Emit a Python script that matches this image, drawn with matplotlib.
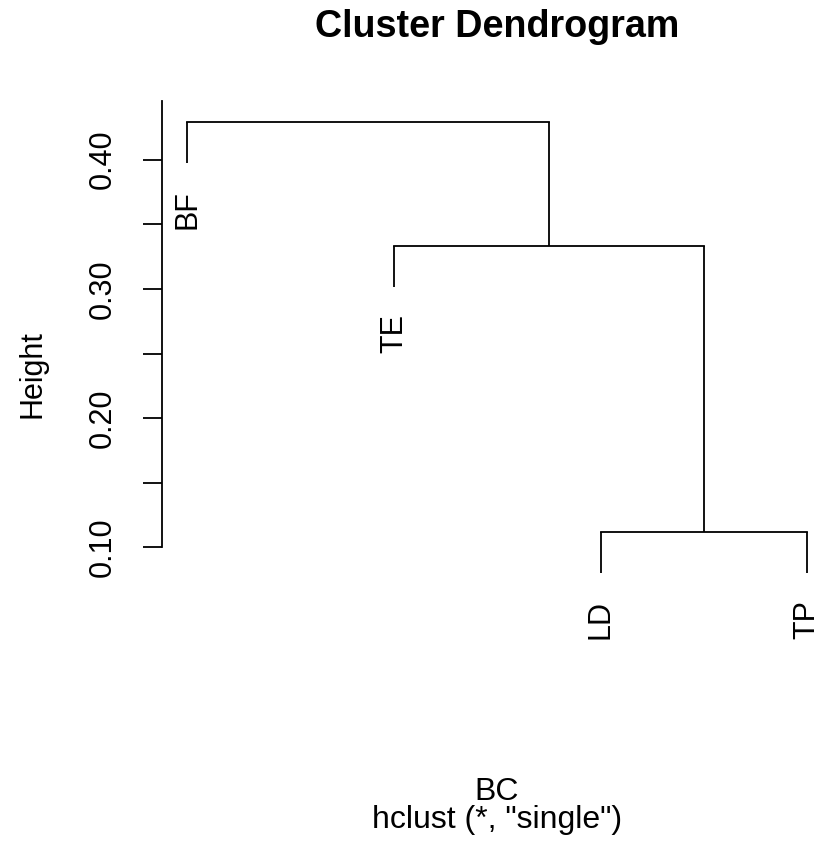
import matplotlib
matplotlib.use("Agg")
from matplotlib import pyplot as plt

plt.rcParams['font.family'] = ['Liberation Sans', 'DejaVu Sans']

# leaves in display order, merges in R hclust style (negative = leaf)
labels = ["BF", "TE", "LD", "TP"]
merge = [(-3, -4), (-2, 1), (-1, 2)]
height = [0.1116, 0.3334, 0.4289]
yticks = [0.10, 0.15, 0.20, 0.25, 0.30, 0.35, 0.40]
yticklabels = ["0.10", "", "0.20", "", "0.30", "", "0.40"]

W, H = 814, 847
fig = plt.figure(figsize=(W / 100, H / 100), dpi=100)
# plot region in pixels: left 162, right 832 (beyond the edge), top 101, bottom 591
ax = fig.add_axes([162.3 / W, 1 - 591.4 / H, 670 / W, 490.4 / H])

lw = 1.3
fs = 22
hang = 0.1 * (max(height) - min(height))
pos = {}
for i, (a, b) in enumerate(merge):
    h = height[i]
    xs = []
    for m in (a, b):
        if m < 0:
            x = -m
            y0 = h - hang
            ax.annotate(labels[-m - 1], xy=(x, y0), xytext=(0, -19.5),
                        textcoords='offset points', rotation=90,
                        ha='center', va='top', fontsize=fs)
        else:
            x = pos[m]
            y0 = height[m - 1]
        ax.plot([x, x], [y0, h], color='black', lw=lw, solid_capstyle='butt')
        xs.append(x)
    ax.plot(xs, [h, h], color='black', lw=lw, solid_capstyle='projecting')
    pos[i + 1] = sum(xs) / 2

ax.set_xlim(0.88, 4.12)
ax.set_ylim(0.0659, 0.4454)
for s in ['top', 'right', 'bottom']:
    ax.spines[s].set_visible(False)
ax.spines['left'].set_bounds(0.10, 0.4454)
ax.spines['left'].set_linewidth(lw)
ax.set_xticks([])
ax.set_yticks(yticks)
ax.set_yticklabels(yticklabels, rotation=90, va='center', fontsize=fs)
ax.tick_params(axis='y', length=13.7, width=lw, pad=18.5)

fig.text(497 / W, 1 - 37 / H, "Cluster Dendrogram", ha='center',
         va='baseline', fontsize=27.2, fontweight='bold')
fig.text(497 / W, 1 - 800 / H, "BC", ha='center', va='baseline', fontsize=23)
fig.text(497 / W, 1 - 828 / H, 'hclust (*, "single")', ha='center',
         va='baseline', fontsize=23)
fig.text(48 / W, 1 - 374 / H, "Height", rotation=90, ha='right',
         va='center', fontsize=fs)

fig.savefig("out.png", dpi=100)
